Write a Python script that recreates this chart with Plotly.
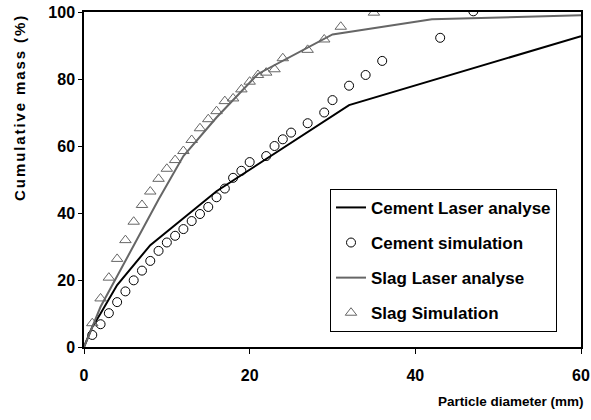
import plotly.graph_objects as go

# Cement laser analysis (line)
cement_laser_x = [0, 1, 2, 4, 8, 16, 32, 60]
cement_laser_y = [0, 6, 10, 18.5, 30.4, 46.5, 72.2, 92.8]

# Cement simulation (circles)
cement_sim_x = [1, 2, 3, 4, 5, 6, 7, 8, 9, 10, 11, 12, 13, 14, 15, 16, 17, 18, 19, 20,
                22, 23, 24, 25, 27, 29, 30, 32, 34, 36, 43, 47]
cement_sim_y = [3.6, 6.8, 10.1, 13.4, 16.6, 19.9, 22.8, 25.7, 28.7, 31.2, 33.2, 35.2, 37.6,
                39.7, 41.8, 44.7, 47.3, 50.5, 52.6, 55.2, 57.0, 60.0, 62.0, 64.0, 66.8, 70.0,
                73.7, 78.0, 81.2, 85.4, 92.3, 100.2]

# Slag laser analysis (line)
slag_laser_x = [0, 2, 9, 12, 16, 21, 30, 42, 60]
slag_laser_y = [0, 12, 44, 57, 68.5, 81.5, 93.3, 97.8, 99.0]

# Slag simulation (triangles)
slag_sim_x = [1, 2, 3, 4, 5, 6, 7, 8, 9, 10, 11, 12, 13, 14, 15, 16, 17, 18, 19, 20, 21, 22,
              23, 24, 27, 29, 31, 35]
slag_sim_y = [7.1, 14.5, 20.7, 26.3, 31.9, 37.4, 42.4, 46.4, 50.2, 53.2, 55.8, 58.5, 61.8,
              65.3, 68.0, 70.4, 73.4, 74.2, 76.9, 79.2, 81.2, 81.9, 82.9, 86.2, 88.7, 91.8,
              95.6, 99.8]

x_ticks = [0, 20, 40, 60]
y_ticks = [0, 20, 40, 60, 80, 100]

FONT = "Liberation Sans, Arial, sans-serif"
GRAY = "#666666"

fig = go.Figure()
fig.add_trace(go.Scatter(x=cement_laser_x, y=cement_laser_y, mode="lines",
                         name="Cement Laser analyse", legendgroup="a",
                         line=dict(color="black", width=2)))
fig.add_trace(go.Scatter(x=cement_sim_x, y=cement_sim_y, mode="markers",
                         name="Cement simulation", legendgroup="b",
                         marker=dict(symbol="circle-open", size=9, color="black",
                                     line=dict(width=1))))
fig.add_trace(go.Scatter(x=slag_laser_x, y=slag_laser_y, mode="lines",
                         name="Slag Laser analyse", legendgroup="c",
                         line=dict(color=GRAY, width=2)))
fig.add_trace(go.Scatter(x=slag_sim_x, y=slag_sim_y, mode="markers",
                         name="Slag Simulation", legendgroup="d",
                         marker=dict(symbol="triangle-up-open", size=10, color=GRAY,
                                     line=dict(width=1))))

fig.update_layout(
    width=591, height=420,
    margin=dict(l=84, r=10, t=12, b=73),
    plot_bgcolor="white", paper_bgcolor="white",
    font=dict(family=FONT, color="black", size=14, weight="bold"),
    showlegend=True,
    legend=dict(x=0.495, y=0.472, xanchor="left", yanchor="top",
                bgcolor="white", bordercolor="black", borderwidth=1,
                font=dict(family=FONT, size=17, weight="bold"),
                tracegroupgap=10, itemwidth=30),
    xaxis=dict(range=[0, 60], tickvals=x_ticks, ticks="outside", ticklen=5,
               tickwidth=1, tickcolor="black", showgrid=False, zeroline=False,
               showline=True, linecolor="black", linewidth=1.5, mirror=True,
               automargin=False, ticklabelstandoff=8,
               tickfont=dict(size=16, family=FONT, weight="bold")),
    yaxis=dict(range=[0, 100], tickvals=y_ticks, ticks="outside", ticklen=4,
               tickwidth=1, tickcolor="black", showgrid=False, zeroline=False,
               showline=True, linecolor="black", linewidth=1.5, mirror=True,
               automargin=False,
               tickfont=dict(size=16, family=FONT, weight="bold")),
    annotations=[
        dict(text="Particle diameter (mm)", xref="paper", yref="paper",
             x=1.01, y=-0.162, xanchor="right", yanchor="middle", showarrow=False,
             font=dict(size=13.5, family=FONT, weight="bold")),
        dict(text='<span style="letter-spacing:1.9px">Cumulative mass (%)</span>',
             xref="paper", yref="paper",
             x=-0.13, y=1.0, xanchor="center", yanchor="top", textangle=-90,
             showarrow=False, font=dict(size=15, family=FONT, weight="bold")),
    ],
)

fig.write_html("out.html")
